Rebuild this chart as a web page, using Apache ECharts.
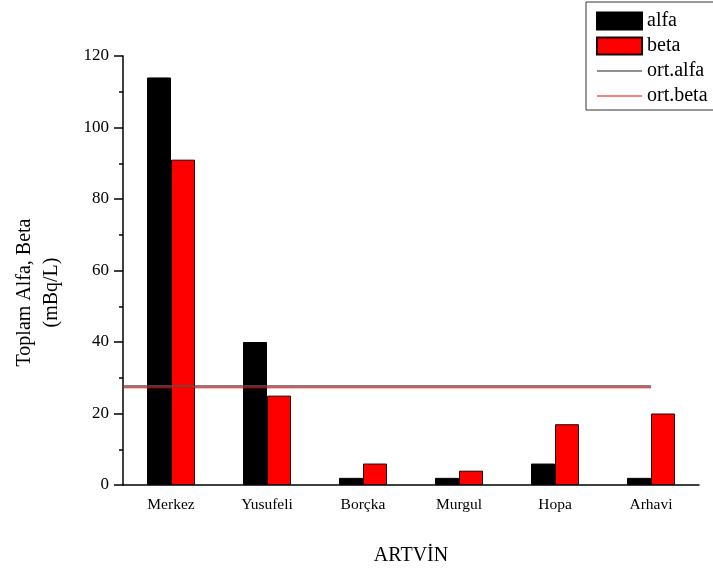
<!DOCTYPE html>
<html>
<head>
<meta charset="utf-8">
<script src="https://cdn.jsdelivr.net/npm/echarts@6/dist/echarts.min.js"></script>
<style>html,body{margin:0;padding:0;background:#fff;}#c{width:713px;height:571px;}</style>
</head>
<body>
<div id="c"></div>
<script>
const categories = ['Merkez', 'Yusufeli', 'Borçka', 'Murgul', 'Hopa', 'Arhavi'];
const alfa = [114, 40, 2, 2, 6, 2];
const beta = [91, 25, 6, 4, 17, 20];
const ortAlfa = 27.7;
const ortBeta = 27.2;
const ortSpan = [0.5, 6];   // from axis start to last category centre (category units)
const yTicks = {min: 0, max: 120, interval: 20};

const font = 'Liberation Serif';
const lineIcon = 'path://M0 0H45V1H0Z';
const chart = echarts.init(document.getElementById('c'));
chart.setOption({
  animation: false,
  backgroundColor: '#fff',
  textStyle: {fontFamily: font},
  grid: {left: 123, right: 14, top: 56, bottom: 85, containLabel: false},
  legend: {
    orient: 'vertical',
    left: 586, top: 2,
    padding: [9, 40, 4, 10],
    itemWidth: 45, itemHeight: 17, itemGap: 5,
    borderColor: '#333', borderWidth: 1,
    symbolKeepAspect: true,
    textStyle: {fontFamily: font, fontSize: 20, color: '#000'},
    data: [
      {name: 'alfa', icon: 'rect'},
      {name: 'beta', icon: 'rect'},
      {name: 'ort.alfa', icon: lineIcon, itemStyle: {color: '#222', borderWidth: 0}},
      {name: 'ort.beta', icon: lineIcon, itemStyle: {color: '#ff0000', borderWidth: 0}}
    ]
  },
  xAxis: [
    {
      type: 'category', data: categories, position: 'bottom',
      axisLine: {lineStyle: {color: '#000', width: 1.5}},
      axisTick: {length: 5, lineStyle: {color: '#000', width: 1.5}},
      axisLabel: {color: '#000', fontSize: 15.5, fontFamily: font, margin: 12},
      name: 'ARTVİN', nameLocation: 'middle', nameGap: 61,
      nameTextStyle: {color: '#000', fontSize: 20, fontFamily: font}
    },
    {
      type: 'category', data: categories, position: 'bottom',
      axisLine: {show: false},
      axisTick: {alignWithLabel: true, length: 5, lineStyle: {color: '#000', width: 1.5}},
      axisLabel: {show: false}
    },
    {
      type: 'value', min: 0.5, max: 6.5, position: 'top', show: false
    }
  ],
  yAxis: {
    type: 'value', min: yTicks.min, max: yTicks.max, interval: yTicks.interval,
    axisLine: {show: true, lineStyle: {color: '#000', width: 1.5}},
    axisTick: {show: true, length: 9, lineStyle: {color: '#000', width: 1.5}},
    minorTick: {show: true, splitNumber: 2, length: 4, lineStyle: {color: '#000', width: 1.5}},
    splitLine: {show: false},
    axisLabel: {color: '#000', fontSize: 17, fontFamily: font, margin: 14},
    name: 'Toplam Alfa, Beta\n(mBq/L)', nameLocation: 'middle', nameGap: 58,
    nameTextStyle: {color: '#000', fontSize: 20, fontFamily: font, lineHeight: 27, padding: [0, 44, 0, 0]}
  },
  series: [
    {
      name: 'alfa', type: 'bar', xAxisIndex: 0, data: alfa,
      barWidth: 24, barGap: '0%',
      itemStyle: {color: '#000', borderColor: '#000', borderWidth: 1}
    },
    {
      name: 'beta', type: 'bar', xAxisIndex: 0, data: beta,
      barWidth: 24, barGap: '0%',
      itemStyle: {color: '#ff0000', borderColor: '#200000', borderWidth: 1}
    },
    {
      name: 'ort.alfa', type: 'line', xAxisIndex: 2, symbol: 'none',
      data: ortSpan.map(x => [x, ortAlfa]),
      itemStyle: {color: '#555'},
      lineStyle: {color: '#555', width: 1.5}
    },
    {
      name: 'ort.beta', type: 'line', xAxisIndex: 2, symbol: 'none',
      data: ortSpan.map(x => [x, ortBeta]),
      itemStyle: {color: '#ff0000'},
      lineStyle: {color: '#ff0000', width: 1.2}
    }
  ]
});
</script>
</body>
</html>
